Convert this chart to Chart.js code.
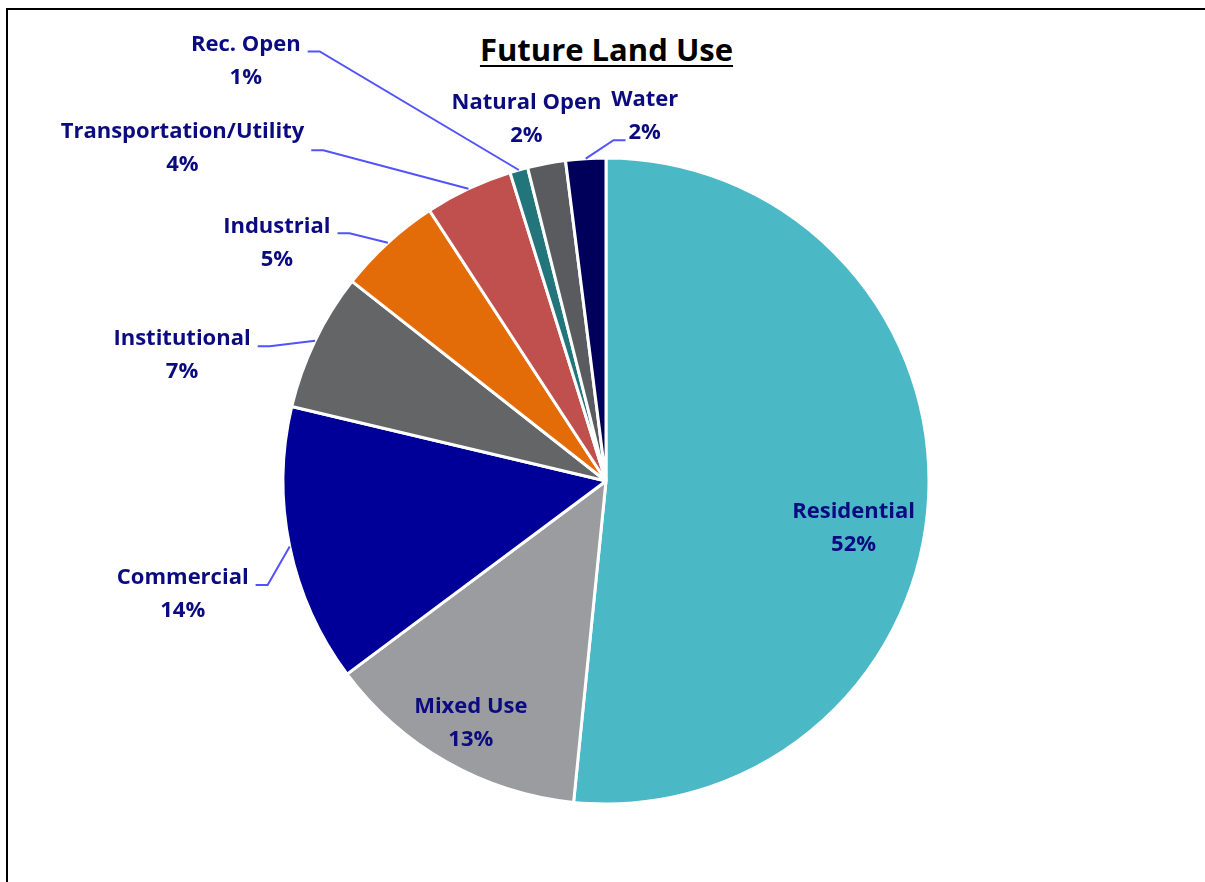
<!DOCTYPE html>
<html>
<head>
<meta charset="utf-8">
<script src="https://cdn.jsdelivr.net/npm/chart.js@4.4.1/dist/chart.umd.min.js"></script>
<style>
  html, body { margin: 0; padding: 0; background: #fff; overflow: hidden; }
  #wrap { position: relative; width: 1205px; height: 882px; overflow: hidden; }
  #frame { position: absolute; left: 6px; top: 8px; width: 1400px; height: 1000px;
           border-left: 2px solid #000; border-top: 2px solid #000; }
  #title { position: absolute; left: 0; width: 1213px; top: 28px; text-align: center;
           font: bold 31px "Open Sans", Lato, sans-serif; color: #000;
           text-decoration: underline; text-decoration-thickness: 2px; text-underline-offset: 4px; }
  #chart { position: absolute; left: 0; top: 0; }
</style>
</head>
<body>
<div id="wrap">
  <div id="frame"></div>
  <div id="title">Future Land Use</div>
  <canvas id="chart" width="1205" height="882"></canvas>
</div>
<script>
// data, clockwise from 12 o'clock
const categories = ['Residential', 'Mixed Use', 'Commercial', 'Institutional', 'Industrial',
                    'Transportation/Utility', 'Rec. Open', 'Natural Open', 'Water'];
const shares = [51.6, 13.2, 13.9, 6.9, 5.2, 4.4, 0.9, 1.9, 2.0];
const sliceColors = ['#4BB8C6', '#9B9CA0', '#000099', '#646567', '#E36C09',
                     '#C0504D', '#23757C', '#5A5B5F', '#00005A'];

// label placement: offset of label block centre from slice's outer midpoint,
// leader side ('L' = label left of slice, 'R' = right, null = none), leader y tweak
const labelLayout = [
  [-75, 31, null, 0],
  [24, -39, null, 0],
  [-107, 48, 'L', 0],
  [-133, 15, 'L', 0],
  [-111, 0, 'L', 0],
  [-286, -41, 'L', 12],
  [-273, -109, 'L', 0],
  [-20, -44, null, 0],
  [59, -42, 'R', 0]
];

const textColor = '#0B0B80';
const leaderColor = '#5252FF';
const total = shares.reduce((a, b) => a + b, 0);

const sliceLabels = {
  id: 'sliceLabels',
  afterDatasetsDraw(chart) {
    const ctx = chart.ctx;
    const meta = chart.getDatasetMeta(0);
    ctx.save();
    ctx.font = 'bold 22px "Open Sans", Lato, sans-serif';
    ctx.textAlign = 'center';
    ctx.textBaseline = 'middle';
    meta.data.forEach((arc, i) => {
      const p = arc.getProps(['x', 'y', 'startAngle', 'endAngle', 'outerRadius'], true);
      const mid = (p.startAngle + p.endAngle) / 2;
      const ax = p.x + Math.cos(mid) * p.outerRadius;
      const ay = p.y + Math.sin(mid) * p.outerRadius;
      const [dx, dy, side, ldy] = labelLayout[i];
      const cx = ax + dx, cy = ay + dy;
      const name = categories[i];
      const pct = Math.round(shares[i] / total * 100) + '%';
      const y1 = cy - 16.5, y2 = cy + 16.5;

      if (side) {
        ctx.strokeStyle = leaderColor;
        ctx.lineWidth = 2;
        ctx.beginPath();
        if (side === 'L') {
          const ex = cx + ctx.measureText(name).width / 2 + 7;
          const ly = y1 + 7 + ldy;
          ctx.moveTo(ex, ly);
          ctx.lineTo(ex + 12, ly);
          ctx.lineTo(ax, ay);
        } else {
          const ex = cx - ctx.measureText(pct).width / 2 - 3;
          const ly = y2 + 7 + ldy;
          ctx.moveTo(ex, ly);
          ctx.lineTo(ex - 12, ly);
          ctx.lineTo(ax, ay);
        }
        ctx.stroke();
      }

      ctx.fillStyle = textColor;
      ctx.fillText(name, cx, y1);
      ctx.fillText(pct, cx, y2);
    });
    ctx.restore();
  }
};

new Chart(document.getElementById('chart'), {
  type: 'pie',
  data: {
    labels: categories,
    datasets: [{
      data: shares,
      backgroundColor: sliceColors,
      borderColor: '#ffffff',
      borderWidth: 3
    }]
  },
  options: {
    responsive: false,
    animation: false,
    layout: { padding: { left: 281.5, top: 156.5, right: 274.5, bottom: 76.5 } },
    plugins: {
      legend: { display: false },
      tooltip: { enabled: false }
    }
  },
  plugins: [sliceLabels]
});
</script>
</body>
</html>
